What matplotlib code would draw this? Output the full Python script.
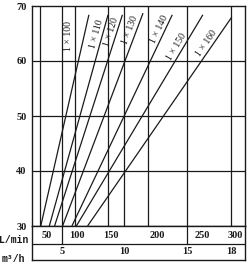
import numpy as np
import matplotlib
matplotlib.use("Agg")
import matplotlib.pyplot as plt

# ---- data ----
curve_names = ["1×100", "1×110", "1×120", "1×130", "1×140", "1×150", "1×160"]
flow_lo = [51, 64, 72, 84, 96, 102, 119]          # L/min where each curve meets 30
flow_hi = [121, 150, 165, 193, 231, 268, 301]     # L/min at the upper end
head_lo = [30, 30, 30, 30, 30, 30, 30]
head_hi = [68.4, 68.4, 68.4, 68.7, 68.4, 68.4, 68.0]

head_ticks = [30, 40, 50, 60, 70]
lmin_ticks = [50, 100, 150, 200, 250, 300]
m3h_ticks = [5, 10, 15, 18]

# the printed flow axis is not uniform: grid value -> fraction of plot width
axis_flow = [38, 50, 83.33, 100, 150, 166.67, 200, 250, 300, 316]
axis_pos = [0.0, 0.038, 0.141, 0.202, 0.357, 0.432, 0.545, 0.728, 0.934, 1.0]


def fwd(x):
    return np.interp(x, axis_flow, axis_pos)


def inv(x):
    return np.interp(x, axis_pos, axis_flow)


SERIF = ["Liberation Serif", "DejaVu Serif"]
MONO = ["Liberation Mono", "DejaVu Sans Mono"]
INK = "#1a1a1a"

fig = plt.figure(figsize=(2.5, 2.7), dpi=100)
W, H = 250.0, 270.0
x0, x1 = 32, 245
ax = fig.add_axes([x0 / W, 1 - 226 / H, (x1 - x0) / W, (226 - 6) / H])
ax.set_xscale("function", functions=(fwd, inv))
ax.set_xlim(axis_flow[0], axis_flow[-1])
ax.set_ylim(30, 70)

m3h_in_lmin = [v * 1000 / 60 for v in m3h_ticks]
grid_x = sorted(set(lmin_ticks + m3h_in_lmin[:-1]))
for gx in grid_x:
    ax.axvline(gx, color=INK, lw=0.9)
for gy in head_ticks[1:-1]:
    ax.axhline(gy, color=INK, lw=0.9)

ax.set_xticks([])
ax.set_yticks(head_ticks)
ax.set_yticklabels([str(v) for v in head_ticks], family=SERIF, fontsize=7.5, weight="bold")
ax.tick_params(axis="y", length=0, pad=4, colors=INK)
for s in ax.spines.values():
    s.set_color(INK)
    s.set_linewidth(1.0)

for i in range(len(curve_names)):
    ax.plot([flow_lo[i], flow_hi[i]], [head_lo[i], head_hi[i]], color=INK, lw=0.9,
            solid_capstyle="butt")

# curve labels, laid along each line on its upper-left side
label_head = [64.0, 64.6, 65.0, 65.2, 65.3, 62.0, 62.6]
label_gap = [15, 6, 6, 6, 6, 6, 6]
for i, name in enumerate(curve_names):
    p0 = ax.transData.transform((flow_lo[i], head_lo[i]))
    p1 = ax.transData.transform((flow_hi[i], head_hi[i]))
    ang = np.arctan2(p1[1] - p0[1], p1[0] - p0[0])
    t = (label_head[i] - head_lo[i]) / (head_hi[i] - head_lo[i])
    fx = inv(fwd(flow_lo[i]) + t * (fwd(flow_hi[i]) - fwd(flow_lo[i])))
    nx, ny = -np.sin(ang) * label_gap[i], np.cos(ang) * label_gap[i]
    rot = 90 if i == 0 else np.degrees(ang)
    ax.annotate(name.replace("×", " × "), (fx, label_head[i]), xytext=(nx, ny),
                textcoords="offset pixels", rotation=rot, rotation_mode="anchor",
                ha="center", va="center", family=SERIF, fontsize=7, color=INK)

# ---- scale table under the plot ----
tb = fig.add_axes([x0 / W, 1 - 260 / H, (x1 - x0) / W, (260 - 226) / H])
tb.set_xscale("function", functions=(fwd, inv))
tb.set_xlim(axis_flow[0], axis_flow[-1])
tb.set_ylim(0, 34)
tb.set_xticks([])
tb.set_yticks([])
for s in tb.spines.values():
    s.set_color(INK)
    s.set_linewidth(1.0)
tb.axhline(16, color=INK, lw=0.9)
for gx in (m3h_in_lmin[0], m3h_in_lmin[2]):
    tb.plot([gx, gx], [16, 34], color=INK, lw=0.9)

lmin_nudge = [7, 2, 3, 9, 15, 4]
for v, dx in zip(lmin_ticks, lmin_nudge):
    tb.annotate(str(v), (v, 25), xytext=(dx, 0), textcoords="offset pixels",
                ha="center", va="center", family=SERIF, fontsize=7.5, weight="bold", color=INK)
for v, fx in zip(m3h_ticks, m3h_in_lmin):
    tb.text(fx, 8, str(v), ha="center", va="center", family=SERIF, fontsize=7.5,
            weight="bold", color=INK)

fig.text(14 / W, 1 - 240 / H, "L/min", ha="center", va="center", family=MONO,
         fontsize=7, weight="bold", color=INK)
fig.text(13 / W, 1 - 259 / H, "m³/h", ha="center", va="center", family=MONO,
         fontsize=7, weight="bold", color=INK)

fig.savefig("out.png", dpi=100)
